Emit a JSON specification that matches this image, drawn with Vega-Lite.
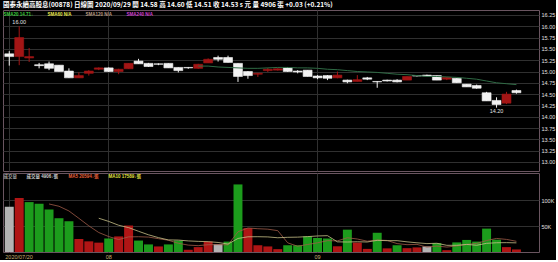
{
"$schema": "https://vega.github.io/schema/vega-lite/v6.json",
"background": "#000000",
"padding": {"left": 2, "top": 2, "right": 0, "bottom": 0},
"title": {"text": "國泰永續高股息(00878)     日線圖  2020/09/29  開 14.58  高 14.60  低 14.51  收 14.53 s 元  量 4906 張  +0.03 (+0.21%)", "anchor": "start", "frame": "group", "color": "#ffffff", "font": "Noto Sans CJK TC", "fontSize": 6.5, "fontWeight": "bold", "offset": 1},
"datasets": {"k": [
{"date":"2020-07-20","o":15.39,"h":15.45,"l":15.13,"c":15.33,"v":87000,"dir":"flat","sma20":null,"ma5":null,"ma10":null},
{"date":"2020-07-21","o":15.33,"h":16.00,"l":15.14,"c":15.75,"v":104000,"dir":"up","sma20":null,"ma5":null,"ma10":null},
{"date":"2020-07-22","o":15.30,"h":15.52,"l":15.21,"c":15.33,"v":96000,"dir":"down","sma20":null,"ma5":null,"ma10":null},
{"date":"2020-07-23","o":15.15,"h":15.19,"l":15.07,"c":15.13,"v":93000,"dir":"down","sma20":null,"ma5":null,"ma10":null},
{"date":"2020-07-24","o":15.17,"h":15.22,"l":15.03,"c":15.07,"v":82000,"dir":"down","sma20":null,"ma5":92400,"ma10":null},
{"date":"2020-07-27","o":15.14,"h":15.14,"l":15.00,"c":15.00,"v":65000,"dir":"down","sma20":null,"ma5":88000,"ma10":null},
{"date":"2020-07-28","o":15.01,"h":15.07,"l":14.86,"c":14.86,"v":59000,"dir":"down","sma20":null,"ma5":79000,"ma10":null},
{"date":"2020-07-29","o":14.86,"h":14.98,"l":14.86,"c":14.91,"v":25000,"dir":"up","sma20":null,"ma5":64800,"ma10":null},
{"date":"2020-07-30","o":14.96,"h":15.03,"l":14.91,"c":15.01,"v":20500,"dir":"up","sma20":null,"ma5":50300,"ma10":null},
{"date":"2020-07-31","o":15.05,"h":15.09,"l":15.03,"c":15.08,"v":18000,"dir":"up","sma20":null,"ma5":37500,"ma10":64950},
{"date":"2020-08-03","o":15.08,"h":15.09,"l":14.99,"c":15.00,"v":26000,"dir":"down","sma20":null,"ma5":29700,"ma10":58850},
{"date":"2020-08-04","o":15.00,"h":15.06,"l":14.94,"c":15.05,"v":30000,"dir":"up","sma20":null,"ma5":23900,"ma10":51450},
{"date":"2020-08-05","o":15.06,"h":15.18,"l":15.06,"c":15.18,"v":51000,"dir":"up","sma20":null,"ma5":29100,"ma10":46950},
{"date":"2020-08-06","o":15.23,"h":15.28,"l":15.17,"c":15.17,"v":22000,"dir":"down","sma20":null,"ma5":29400,"ma10":39850},
{"date":"2020-08-07","o":15.18,"h":15.19,"l":15.10,"c":15.11,"v":14600,"dir":"down","sma20":null,"ma5":28700,"ma10":33110},
{"date":"2020-08-10","o":15.17,"h":15.18,"l":15.14,"c":15.16,"v":10700,"dir":"up","sma20":null,"ma5":25660,"ma10":27680},
{"date":"2020-08-11","o":15.18,"h":15.18,"l":15.08,"c":15.08,"v":14600,"dir":"down","sma20":null,"ma5":22580,"ma10":23240},
{"date":"2020-08-12","o":15.09,"h":15.09,"l":14.98,"c":15.02,"v":22000,"dir":"down","sma20":null,"ma5":16780,"ma10":22940},
{"date":"2020-08-13","o":15.09,"h":15.10,"l":15.06,"c":15.08,"v":4300,"dir":"up","sma20":null,"ma5":13240,"ma10":21320},
{"date":"2020-08-14","o":15.07,"h":15.17,"l":15.06,"c":15.16,"v":9400,"dir":"up","sma20":15.12,"ma5":12200,"ma10":20460},
{"date":"2020-08-17","o":15.19,"h":15.29,"l":15.19,"c":15.27,"v":20000,"dir":"up","sma20":15.12,"ma5":14060,"ma10":19860},
{"date":"2020-08-18","o":15.31,"h":15.35,"l":15.22,"c":15.27,"v":15000,"dir":"flat","sma20":15.10,"ma5":14140,"ma10":18360},
{"date":"2020-08-19","o":15.31,"h":15.35,"l":15.20,"c":15.20,"v":20000,"dir":"down","sma20":15.09,"ma5":13740,"ma10":15260},
{"date":"2020-08-20","o":15.18,"h":15.18,"l":14.77,"c":14.89,"v":130000,"dir":"down","sma20":15.08,"ma5":38880,"ma10":26060},
{"date":"2020-08-21","o":15.00,"h":15.01,"l":14.84,"c":14.91,"v":46000,"dir":"up","sma20":15.07,"ma5":46200,"ma10":29200},
{"date":"2020-08-24","o":14.94,"h":14.96,"l":14.88,"c":14.96,"v":13000,"dir":"up","sma20":15.07,"ma5":44800,"ma10":29430},
{"date":"2020-08-25","o":15.02,"h":15.08,"l":14.99,"c":15.05,"v":10700,"dir":"up","sma20":15.08,"ma5":43940,"ma10":29040},
{"date":"2020-08-26","o":15.03,"h":15.07,"l":15.02,"c":15.06,"v":5500,"dir":"up","sma20":15.09,"ma5":41040,"ma10":27390},
{"date":"2020-08-27","o":15.08,"h":15.09,"l":14.99,"c":15.00,"v":13000,"dir":"down","sma20":15.09,"ma5":17640,"ma10":28260},
{"date":"2020-08-28","o":15.01,"h":15.03,"l":14.96,"c":14.99,"v":13000,"dir":"down","sma20":15.08,"ma5":11040,"ma10":28620},
{"date":"2020-08-31","o":15.03,"h":15.03,"l":14.89,"c":14.89,"v":30000,"dir":"down","sma20":15.08,"ma5":14440,"ma10":29620},
{"date":"2020-09-01","o":14.90,"h":14.92,"l":14.83,"c":14.86,"v":27000,"dir":"down","sma20":15.07,"ma5":17700,"ma10":30820},
{"date":"2020-09-02","o":14.91,"h":14.92,"l":14.81,"c":14.85,"v":26000,"dir":"down","sma20":15.05,"ma5":21800,"ma10":31420},
{"date":"2020-09-03","o":14.86,"h":15.00,"l":14.85,"c":14.92,"v":11000,"dir":"up","sma20":15.04,"ma5":21400,"ma10":19520},
{"date":"2020-09-04","o":14.81,"h":14.82,"l":14.74,"c":14.77,"v":43000,"dir":"down","sma20":15.02,"ma5":27400,"ma10":19220},
{"date":"2020-09-07","o":14.78,"h":14.92,"l":14.78,"c":14.82,"v":18000,"dir":"up","sma20":15.00,"ma5":25000,"ma10":19720},
{"date":"2020-09-08","o":14.86,"h":14.88,"l":14.81,"c":14.83,"v":6000,"dir":"up","sma20":14.99,"ma5":20800,"ma10":19250},
{"date":"2020-09-09","o":14.78,"h":14.79,"l":14.64,"c":14.77,"v":37000,"dir":"down","sma20":14.98,"ma5":23000,"ma10":22400},
{"date":"2020-09-10","o":14.81,"h":14.82,"l":14.78,"c":14.79,"v":7000,"dir":"up","sma20":14.96,"ma5":22200,"ma10":21800},
{"date":"2020-09-11","o":14.81,"h":14.83,"l":14.76,"c":14.77,"v":13000,"dir":"down","sma20":14.94,"ma5":16200,"ma10":21800},
{"date":"2020-09-14","o":14.81,"h":14.89,"l":14.81,"c":14.89,"v":7400,"dir":"up","sma20":14.93,"ma5":14080,"ma10":19540},
{"date":"2020-09-15","o":14.91,"h":14.92,"l":14.89,"c":14.90,"v":8800,"dir":"up","sma20":14.91,"ma5":14640,"ma10":17720},
{"date":"2020-09-16","o":14.92,"h":14.93,"l":14.90,"c":14.90,"v":10700,"dir":"flat","sma20":14.89,"ma5":9380,"ma10":16190},
{"date":"2020-09-17","o":14.91,"h":14.91,"l":14.81,"c":14.81,"v":17000,"dir":"down","sma20":14.89,"ma5":11380,"ma10":16790},
{"date":"2020-09-18","o":14.83,"h":14.88,"l":14.81,"c":14.87,"v":3500,"dir":"up","sma20":14.88,"ma5":9480,"ma10":12840},
{"date":"2020-09-21","o":14.85,"h":14.85,"l":14.75,"c":14.75,"v":18500,"dir":"down","sma20":14.87,"ma5":11700,"ma10":12890},
{"date":"2020-09-22","o":14.72,"h":14.72,"l":14.66,"c":14.66,"v":23200,"dir":"down","sma20":14.85,"ma5":14580,"ma10":14610},
{"date":"2020-09-23","o":14.69,"h":14.71,"l":14.62,"c":14.63,"v":20000,"dir":"down","sma20":14.83,"ma5":16440,"ma10":12910},
{"date":"2020-09-24","o":14.53,"h":14.55,"l":14.35,"c":14.35,"v":45000,"dir":"down","sma20":14.79,"ma5":22040,"ma10":16710},
{"date":"2020-09-25","o":14.36,"h":14.43,"l":14.20,"c":14.27,"v":23700,"dir":"down","sma20":14.75,"ma5":26080,"ma10":17780},
{"date":"2020-09-28","o":14.30,"h":14.55,"l":14.28,"c":14.50,"v":9400,"dir":"up","sma20":14.73,"ma5":24260,"ma10":17980},
{"date":"2020-09-29","o":14.58,"h":14.60,"l":14.51,"c":14.53,"v":4906,"dir":"up","sma20":14.71,"ma5":20594,"ma10":17589}
]},
"data": {"name": "k"},
"config": {
  "view": {"stroke": "#6a5560", "strokeWidth": 1},
  "axis": {"labelFont": "Liberation Sans", "labelFontSize": 5.5, "labelColor": "#e0e0e0", "gridColor": "#303030", "gridWidth": 1, "domain": false, "ticks": false, "title": null, "labelOverlap": false},
  "legend": {"title": null, "orient": "none", "direction": "horizontal", "symbolSize": 0, "symbolStrokeWidth": 0, "symbolOpacity": 0, "labelOffset": 0, "labelFont": "Liberation Sans, Noto Sans CJK TC", "labelFontSize": 4.5, "labelFontWeight": "bold", "padding": 0}
},
"spacing": 0,
"resolve": {"scale": {"color": "independent", "y": "independent"}, "legend": {"color": "independent"}},
"vconcat": [
{
  "width": 536, "height": 161,
  "encoding": {"x": {"field": "date", "type": "ordinal", "scale": {"paddingInner": 0.1, "paddingOuter": 1.76, "align": 0.09}, "axis": {"values": ["2020-07-20", "2020-08-03", "2020-09-01"], "labels": false, "grid": true, "bandPosition": 0.5}}},
  "layer": [
    {"mark": {"type": "rule", "strokeWidth": 1},
     "encoding": {
       "y": {"field": "l", "type": "quantitative", "scale": {"domain": [12.8, 16.36], "zero": false, "nice": false},
             "axis": {"orient": "right", "values": [13, 13.25, 13.5, 13.75, 14, 14.25, 14.5, 14.75, 15, 15.25, 15.5, 15.75, 16, 16.25], "format": ".2f", "grid": true, "labelPadding": 2, "labelOverlap": false}},
       "y2": {"field": "h"},
       "color": {"condition": {"test": "datum.c > datum.o", "value": "#a31515"}, "value": "#f2f2f2"}}},
    {"mark": {"type": "bar", "strokeWidth": 0.6},
     "encoding": {
       "y": {"field": "o", "type": "quantitative", "scale": {"domain": [12.8, 16.36], "zero": false, "nice": false},
             "axis": {"orient": "right", "values": [13, 13.25, 13.5, 13.75, 14, 14.25, 14.5, 14.75, 15, 15.25, 15.5, 15.75, 16, 16.25], "format": ".2f", "grid": true, "labelPadding": 2, "labelOverlap": false}},
       "y2": {"field": "c"},
       "fill": {"condition": {"test": "datum.c > datum.o", "value": "#a31515"}, "value": "#f2f2f2"},
       "stroke": {"condition": {"test": "datum.c > datum.o", "value": "#a31515"}, "value": "#f2f2f2"}}},
    {"mark": {"type": "line", "strokeWidth": 1},
     "encoding": {
       "y": {"field": "sma20", "type": "quantitative", "scale": {"domain": [12.8, 16.36], "zero": false, "nice": false},
             "axis": {"orient": "right", "values": [13, 13.25, 13.5, 13.75, 14, 14.25, 14.5, 14.75, 15, 15.25, 15.5, 15.75, 16, 16.25], "format": ".2f", "grid": true, "labelPadding": 2, "labelOverlap": false}},
       "color": {"datum": "SMA20", "type": "nominal",
                 "scale": {"domain": ["SMA20", "SMA60", "SMA120", "SMA240"], "range": ["#2f6b45", "#d4d43a", "#a08868", "#c030c0"]},
                 "legend": {"legendX": 0, "legendY": 2.5, "columnPadding": 13,
                            "labelExpr": "datum.value == 'SMA20' ? 'SMA20 14.71↓' : datum.value + ' N/A'",
                            "encode": {"labels": {"update": {"dx": {"value": -4}, "fill": {"signal": "datum.value == 'SMA20' ? '#3cc83c' : datum.value == 'SMA60' ? '#e8e850' : datum.value == 'SMA120' ? '#b89c80' : '#d040d0'"}}}}}}}},
    {"transform": [{"filter": "datum.date == '2020-07-21'"}],
     "mark": {"type": "text", "baseline": "bottom", "dy": -1, "fontSize": 5.5, "font": "Liberation Sans", "color": "#e0e0e0"},
     "encoding": {"y": {"field": "h", "type": "quantitative", "scale": {"domain": [12.8, 16.36], "zero": false, "nice": false},
             "axis": {"orient": "right", "values": [13, 13.25, 13.5, 13.75, 14, 14.25, 14.5, 14.75, 15, 15.25, 15.5, 15.75, 16, 16.25], "format": ".2f", "grid": true, "labelPadding": 2, "labelOverlap": false}},
                  "text": {"field": "h", "type": "quantitative", "format": ".2f"}}},
    {"transform": [{"filter": "datum.date == '2020-09-25'"}],
     "mark": {"type": "text", "baseline": "top", "dy": 1, "fontSize": 5.5, "font": "Liberation Sans", "color": "#e0e0e0"},
     "encoding": {"y": {"field": "l", "type": "quantitative", "scale": {"domain": [12.8, 16.36], "zero": false, "nice": false},
             "axis": {"orient": "right", "values": [13, 13.25, 13.5, 13.75, 14, 14.25, 14.5, 14.75, 15, 15.25, 15.5, 15.75, 16, 16.25], "format": ".2f", "grid": true, "labelPadding": 2, "labelOverlap": false}},
                  "text": {"field": "l", "type": "quantitative", "format": ".2f"}}}
  ]
},
{
  "width": 536, "height": 79,
  "encoding": {"x": {"field": "date", "type": "ordinal", "scale": {"paddingInner": 0.1, "paddingOuter": 1.76, "align": 0.09},
     "axis": {"values": ["2020-07-20", "2020-08-03", "2020-09-01"], "labelExpr": "datum.value == '2020-07-20' ? '2020/07/20' : slice(datum.value, 5, 7)", "labelColor": "#c8b070",
              "labelAlign": {"condition": {"test": "datum.value == '2020-07-20'", "value": "left"}, "value": "center"},
              "labelOffset": {"condition": {"test": "datum.value == '2020-07-20'", "value": -4}, "value": 0},
              "labelPadding": 2, "grid": true, "bandPosition": 0.5, "labelAngle": 0}}},
  "layer": [
    {"mark": {"type": "bar"},
     "encoding": {
       "y": {"field": "v", "type": "quantitative", "scale": {"domain": [0, 152000], "nice": false},
             "axis": {"orient": "right", "values": [50000, 100000], "labelExpr": "(datum.value / 1000) + 'K'", "grid": true, "labelPadding": 2}},
       "fill": {"condition": [{"test": "datum.dir == 'up'", "value": "#b01515"}, {"test": "datum.dir == 'down'", "value": "#1c9c1c"}], "value": "#b4b4b4"}}},
    {"mark": {"type": "line", "strokeWidth": 0.8},
     "encoding": {
       "y": {"field": "ma5", "type": "quantitative"},
       "color": {"datum": "MA5", "type": "nominal",
                 "scale": {"domain": ["VOL0", "VOL", "MA5", "MA10"], "range": ["#000000", "#000000", "#a05a48", "#c8c088"]},
                 "legend": {"legendX": 0, "legendY": 1.5, "columnPadding": 9,
                            "labelExpr": "datum.value == 'VOL0' ? '成交量  ' : datum.value == 'VOL' ? '成交量 4906↓張' : datum.value == 'MA5' ? 'MA5 20594↓張' : 'MA10 17589↓張'",
                            "encode": {"labels": {"update": {"dx": {"value": -4}, "fill": {"signal": "datum.value == 'MA5' ? '#e8603a' : datum.value == 'MA10' ? '#e0e040' : datum.value == 'VOL' ? '#d0d0d0' : '#a0a0a0'"}}}}}}}},
    {"mark": {"type": "line", "strokeWidth": 0.8},
     "encoding": {
       "y": {"field": "ma10", "type": "quantitative"},
       "color": {"datum": "MA10", "type": "nominal"}}}
  ]
}
]
}
